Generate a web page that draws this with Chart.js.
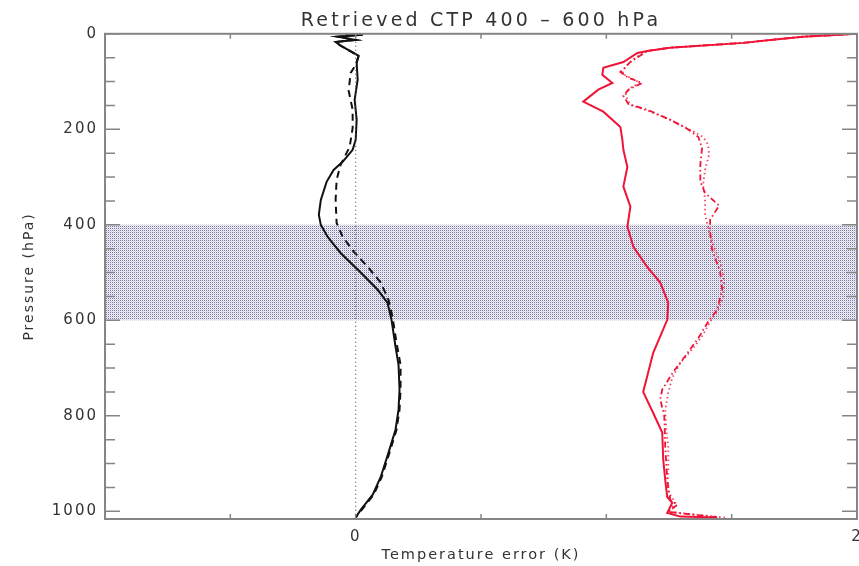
<!DOCTYPE html>
<html><head><meta charset="utf-8">
<script src="https://cdn.jsdelivr.net/npm/chart.js@4"></script>
<style>html,body{margin:0;padding:0;background:#fff;overflow:hidden}</style>
</head><body>
<canvas id="c" width="859" height="566"></canvas>
<script>
// ---- text ----
const chartTitle = 'Retrieved CTP 400 \u2013 600 hPa';
const xAxisTitle = 'Temperature error (K)';
const yAxisTitle = 'Pressure (hPa)';
const xLabeledTicks = [0, 2];
const yLabeledTicks = [0, 200, 400, 600, 800, 1000];
const cloudLayer = [400, 600];          // retrieved CTP band (hPa)
const zeroLineP = [0, 1013];
const zeroLineT = [0, 0];

// ---- black profiles ----
const blackSolidP = [0,2,6,13,17,25,46,61,96,138,180,222,243,268,285,310,348,379,400,425,459,500,536,563,599,655,693,745,787,829,877,928,965,997,1013];
const blackSolidT = [-0.04,0.028,-0.072,0.0,-0.08,-0.06,0.012,0.004,0.008,-0.004,0.004,0.0,-0.012,-0.052,-0.088,-0.116,-0.139,-0.147,-0.139,-0.112,-0.06,0.02,0.088,0.127,0.143,0.159,0.171,0.175,0.171,0.159,0.131,0.1,0.068,0.02,0.0];
const blackDashP = [0,2,6,13,17,25,46,65,82,119,159,197,237,274,306,348,396,425,456,488,521,557,593,647,693,745,787,829,877,928,965,997,1013];
const blackDashT = [-0.04,0.028,-0.072,0,-0.08,-0.06,0.012,0,-0.02,-0.028,-0.012,-0.012,-0.024,-0.06,-0.076,-0.08,-0.076,-0.052,-0.008,0.048,0.1,0.131,0.147,0.163,0.179,0.179,0.175,0.163,0.135,0.104,0.072,0.024,0];

// ---- red profiles ----
const redSolidP = [0,6,13,19,29,36,40,59,71,86,103,117,142,163,195,222,243,279,320,362,404,446,488,521,563,599,668,750,794,835,892,934,970,982,1003,1011,1013];
const redSolidT = [2.0,1.785,1.653,1.546,1.255,1.163,1.124,1.068,0.988,0.984,1.024,0.968,0.908,0.988,1.056,1.064,1.068,1.084,1.068,1.096,1.084,1.108,1.163,1.215,1.247,1.243,1.187,1.147,1.187,1.223,1.227,1.235,1.243,1.263,1.243,1.295,1.442];
const redDashDotP = [0,6,19,29,36,59,80,92,103,117,130,147,159,180,199,216,239,274,310,333,360,389,415,452,498,536,578,603,637,672,708,745,766,798,865,934,976,986,1001,1013];
const redDashDotT = [2.0,1.785,1.546,1.255,1.163,1.096,1.056,1.088,1.143,1.088,1.068,1.088,1.163,1.255,1.323,1.367,1.382,1.375,1.375,1.394,1.45,1.414,1.414,1.422,1.454,1.462,1.442,1.406,1.367,1.319,1.267,1.223,1.215,1.231,1.235,1.243,1.255,1.283,1.247,1.454];
const redDotP = [0,6,19,29,36,50,69,84,94,103,113,128,149,163,182,201,216,232,253,285,316,348,379,406,442,477,515,551,578,603,630,658,689,720,752,787,829,865,913,955,982,1001,1013];
const redDotT = [2.0,1.785,1.546,1.255,1.163,1.116,1.076,1.064,1.104,1.135,1.096,1.076,1.096,1.175,1.263,1.335,1.386,1.406,1.41,1.394,1.386,1.394,1.394,1.406,1.426,1.454,1.47,1.466,1.446,1.414,1.386,1.347,1.295,1.263,1.247,1.235,1.239,1.247,1.247,1.243,1.275,1.247,1.474];

const pts = (t, p) => t.map((v, i) => ({x: v, y: p[i]}));

const canvas = document.getElementById('c');
const ctx = canvas.getContext('2d');

// stipple pattern for the CTP band
const pc = document.createElement('canvas'); pc.width = 2; pc.height = 2;
const g = pc.getContext('2d');
g.fillStyle = 'rgb(242,242,248)'; g.fillRect(0, 0, 2, 2);
g.fillStyle = 'rgb(118,118,165)'; g.fillRect(0, 0, 1, 1);
g.fillStyle = 'rgb(210,210,228)'; g.fillRect(1, 1, 1, 1);
const stipple = ctx.createPattern(pc, 'repeat');

const RED = 'rgb(240,20,55)';
const TXT = '#333';
const FONT = 'DejaVu Sans';

const framePlugin = {
  id: 'frame',
  beforeDraw(chart) { chart.ctx.letterSpacing = '2px'; },
  afterLayout(chart) {
    const tb = chart.titleBlock;
    if (tb && !tb._spaced) {
      const orig = tb.draw;
      tb.draw = function (area) {
        const c = this.ctx; const prev = c.letterSpacing;
        c.letterSpacing = '3.2px';
        orig.call(this, area);
        c.letterSpacing = prev;
      };
      tb._spaced = true;
    }
  },
  afterDatasetsDraw(chart) {
    const {ctx, chartArea: a, scales: {x, y}} = chart;
    ctx.save();
    ctx.strokeStyle = '#858585';
    ctx.lineWidth = 2;
    ctx.strokeRect(a.left, a.top, a.right - a.left, a.bottom - a.top);
    ctx.lineWidth = 1.5;
    ctx.beginPath();
    y.ticks.forEach(t => {
      const py = y.getPixelForValue(t.value);
      const len = yLabeledTicks.includes(t.value) ? 15 : 10;
      ctx.moveTo(a.left, py); ctx.lineTo(a.left + len, py);
      ctx.moveTo(a.right, py); ctx.lineTo(a.right - len, py);
    });
    x.ticks.forEach(t => {
      const px = x.getPixelForValue(t.value);
      ctx.moveTo(px, a.top); ctx.lineTo(px, a.top + 5);
      ctx.moveTo(px, a.bottom); ctx.lineTo(px, a.bottom - 5);
    });
    ctx.stroke();
    ctx.restore();
  }
};

const line = (label, data, color, width, dash, extra) => Object.assign({
  label, data, borderColor: color, borderWidth: width, borderDash: dash,
  pointRadius: 0, fill: false, tension: 0, order: 0
}, extra || {});

new Chart(ctx, {
  type: 'line',
  data: {
    datasets: [
      line('CTP top', pts([-1, 2], [cloudLayer[0], cloudLayer[0]]), 'rgba(0,0,0,0)', 0, [], {order: 10}),
      line('CTP bottom', pts([-1, 2], [cloudLayer[1], cloudLayer[1]]), 'rgba(0,0,0,0)', 0, [], {order: 10, fill: '-1', backgroundColor: stipple}),
      line('zero', pts(zeroLineT, zeroLineP), '#555', 1.2, [1, 3]),
      line('black solid', pts(blackSolidT, blackSolidP), '#111', 2, []),
      line('black dashed', pts(blackDashT, blackDashP), '#111', 2, [7, 5]),
      line('red solid', pts(redSolidT, redSolidP), RED, 2, []),
      line('red dash-dot', pts(redDashDotT, redDashDotP), RED, 1.8, [6, 3, 1.5, 3]),
      line('red dotted', pts(redDotT, redDotP), 'rgba(240,20,55,0.8)', 1.8, [1.5, 3])
    ]
  },
  options: {
    responsive: false,
    animation: false,
    devicePixelRatio: 1,
    layout: {padding: {left: 0, right: 2, top: 0, bottom: 0}},
    plugins: {
      legend: {display: false},
      tooltip: {enabled: false},
      filler: {drawTime: 'beforeDatasetsDraw'},
      title: {
        display: true, text: chartTitle, fullSize: false, color: TXT,
        font: {family: FONT, size: 19, weight: 'normal', lineHeight: 1.2},
        padding: {top: 10, bottom: 1}
      }
    },
    scales: {
      x: {
        type: 'linear', position: 'bottom', min: -1, max: 2,
        grid: {display: false, drawTicks: false},
        border: {display: false},
        ticks: {
          stepSize: 0.5, autoSkip: false, maxRotation: 0, padding: 9, color: TXT,
          font: {family: FONT, size: 15},
          callback: v => xLabeledTicks.includes(v) ? String(v) : ''
        },
        title: {display: true, text: xAxisTitle, color: TXT, font: {family: FONT, size: 14.5, lineHeight: 1.2}, padding: {top: 0, bottom: 2}},
        afterFit: s => { s.height = 47; s.paddingLeft = 0; s.paddingRight = 0; }
      },
      y: {
        type: 'linear', reverse: true, min: 0, max: 1016,
        grid: {display: false, drawTicks: false},
        border: {display: false},
        ticks: {
          stepSize: 50, autoSkip: false, includeBounds: false, padding: 7, color: TXT,
          font: {family: FONT, size: 15},
          callback: v => yLabeledTicks.includes(v) ? String(v) : ''
        },
        title: {display: true, text: yAxisTitle, color: TXT, font: {family: FONT, size: 14, lineHeight: 1.2}, padding: {top: 21, bottom: 0}},
        afterFit: s => { s.width = 105; s.paddingTop = 0; s.paddingBottom = 0; }
      }
    }
  },
  plugins: [framePlugin]
});
</script>
</body></html>
